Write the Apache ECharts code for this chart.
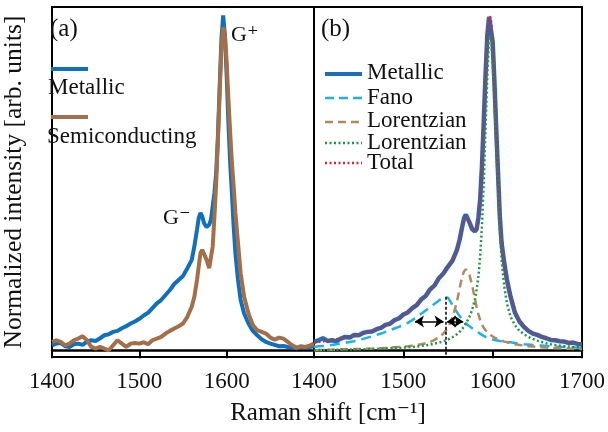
<!DOCTYPE html>
<html>
<head>
<meta charset="utf-8">
<script src="https://cdn.jsdelivr.net/npm/echarts@6/dist/echarts.min.js"></script>
<style>
  html, body { margin: 0; padding: 0; background: #fff; }
  #chart { width: 608px; height: 432px; }
</style>
</head>
<body>
<div id="chart"></div>
<script>
// Raman shift grid (cm-1), shared by every curve
var shift = [1400,1405,1410,1415,1420,1425,1430,1435,1440,1445,1450,1455,1460,1465,1470,1475,1480,1485,1490,1495,
  1500,1505,1510,1515,1520,1525,1530,1535,1540,1545,1550,1555,1560,
  1563,1566,1568,1570,1572,1574,1577,1580,1582,1584,
  1586,1588,1590,1592,1594,1596,1598,1600,1602,1604,1606,1608,1610,
  1613,1616,1620,
  1625,1630,1635,1640,1645,1650,1655,1660,1665,1670,1675,1680,1685,1690,1695,1700];

// (a) measured spectra
var metallicA = [.015,.02,.022,.012,.01,.018,.02,.016,.026,.03,.028,.036,.045,.048,.055,.058,.066,.072,.08,.086,
  .094,.104,.112,.126,.14,.15,.165,.18,.198,.21,.222,.245,.27,
  .31,.36,.395,.41,.4,.38,.368,.375,.39,.43,
  .47,.53,.64,.79,.93,1.0,.94,.82,.68,.56,.47,.37,.29,
  .21,.15,.11,
  .08,.058,.045,.033,.025,.02,.016,.012,.013,.01,.008,.006,.01,.008,.01,.012];
var semiA = [.025,.03,.025,.015,.02,.03,.035,.042,.03,.01,.005,.01,.005,0,.015,.03,.02,.01,.02,.022,
  .02,.024,.018,.03,.035,.04,.05,.058,.065,.072,.08,.1,.13,
  .16,.21,.25,.29,.3,.295,.27,.245,.25,.31,
  .4,.5,.63,.77,.9,.965,.94,.86,.75,.65,.56,.49,.41,
  .32,.23,.16,
  .11,.075,.06,.055,.05,.038,.032,.038,.035,.025,.015,.008,.012,.01,.014,.02];

// (b) metallic spectrum and its fit
var metallicB = [.025,.03,.036,.028,.03,.027,.035,.04,.038,.046,.045,.052,.055,.056,.063,.067,.076,.079,.09,.095,
  .107,.113,.126,.135,.152,.162,.182,.194,.216,.23,.25,.268,.3,
  .33,.37,.395,.405,.4,.382,.362,.355,.362,.395,
  .45,.55,.68,.82,.94,.995,.99,.92,.8,.66,.53,.4,.32,
  .26,.21,.16,
  .112,.086,.07,.058,.05,.046,.04,.036,.031,.03,.027,.026,.022,.023,.019,.018];
var fanoB = [.01,.012,.013,.014,.016,.018,.02,.022,.025,.027,.03,.034,.038,.042,.046,.05,.055,.06,.065,.07,
  .075,.082,.09,.099,.109,.119,.129,.139,.149,.158,.157,.135,.114,
  .102,.092,.086,.08,.076,.072,.066,.06,.056,.053,
  .05,.046,.043,.04,.038,.036,.034,.032,.031,.03,.029,.028,.027,
  .026,.025,.024,
  .022,.02,.018,.017,.016,.015,.014,.013,.012,.011,.01,.01,.009,.009,.008,.008];
var lorentzB1 = [0,.001,.001,.002,.002,.002,.003,.003,.003,.004,.004,.004,.005,.005,.006,.006,.007,.008,.009,.01,
  .011,.012,.014,.016,.018,.021,.025,.031,.039,.05,.068,.098,.145,
  .185,.222,.236,.242,.238,.225,.195,.155,.13,.108,
  .09,.077,.067,.06,.054,.049,.045,.041,.038,.035,.033,.031,.029,
  .026,.024,.021,
  .018,.016,.014,.012,.011,.01,.009,.008,.007,.007,.006,.005,.005,.004,.004,.004];
var lorentzB2 = [0,.001,.001,.001,.001,.002,.002,.002,.002,.003,.003,.003,.004,.004,.004,.005,.005,.006,.007,.007,
  .008,.009,.01,.011,.013,.015,.017,.02,.023,.027,.032,.039,.048,
  .055,.064,.071,.08,.09,.1,.12,.15,.18,.22,
  .28,.37,.5,.66,.82,.93,.94,.86,.74,.61,.49,.36,.27,
  .19,.14,.1,
  .075,.058,.048,.04,.034,.029,.025,.021,.018,.016,.014,.012,.011,.01,.009,.008];
var totalB = [.022,.025,.027,.029,.031,.033,.035,.038,.041,.044,.047,.051,.055,.059,.063,.068,.074,.08,.088,.096,
  .105,.115,.125,.137,.15,.164,.18,.196,.214,.232,.25,.27,.298,
  .33,.368,.39,.4,.396,.382,.364,.356,.362,.392,
  .45,.56,.7,.84,.95,1.0,.99,.92,.79,.65,.52,.4,.32,
  .255,.205,.158,
  .114,.088,.072,.06,.052,.045,.04,.036,.033,.03,.028,.026,.024,.022,.021,.02];

// Fano peak marker and width arrows
var fanoCenter = 1547;
var fanoTop = 0.16;
var arrowLevel = 0.086;
var arrowLeft = [1513, 1545];
var arrowRight = [1549, 1567];

var xTicks = [1400, 1700, 100];

function pairs(ys) {
    return shift.map(function (x, i) { return [x, ys[i]]; });
}

var serif = '"Liberation Serif", "DejaVu Serif", serif';
var chart = echarts.init(document.getElementById('chart'));

function xAxisFor(idx, showMax) {
    return {
        type: 'value', gridIndex: idx,
        min: xTicks[0], max: xTicks[1], interval: xTicks[2],
        axisLine: { show: true, lineStyle: { color: '#000', width: 2.5 } },
        axisTick: { show: true, inside: false, length: 8, lineStyle: { color: '#000', width: 2 } },
        axisLabel: { showMaxLabel: showMax, margin: 13, fontFamily: serif, fontSize: 23, color: '#111',
                     formatter: function (v) { return String(v); } },
        splitLine: { show: false }
    };
}
function yAxisFor(idx) {
    return {
        type: 'value', gridIndex: idx, min: -0.02, max: 1.025,
        axisLine: { show: false }, axisTick: { show: false },
        axisLabel: { show: false }, splitLine: { show: false }
    };
}

var ya = yAxisFor(0);
ya.name = 'Normalized intensity [arb. units]';
ya.nameLocation = 'middle';
ya.nameGap = 25;
ya.nameTextStyle = { fontFamily: serif, fontSize: 25.5, color: '#111' };

function legendLine(x, y, color, dash) {
    return {
        type: 'line', shape: { x1: x, y1: y, x2: x + 37, y2: y },
        style: { stroke: color, lineWidth: dash ? 2.5 : 4, lineDash: dash || null }
    };
}
function label(x, y, text, size) {
    return {
        type: 'text', x: x, y: y,
        style: { text: text, fontFamily: serif, fontSize: size || 23, fill: '#111', textVerticalAlign: 'middle' }
    };
}

var option = {
    animation: false,
    backgroundColor: '#fff',
    grid: [
        { left: 43, top: 7, width: 271, height: 350, show: true, borderColor: '#000', borderWidth: 2 },
        { left: 314, top: 7, width: 273, height: 350, show: true, borderColor: '#000', borderWidth: 2 }
    ],
    xAxis: [xAxisFor(0, false), xAxisFor(1, true)],
    yAxis: [ya, yAxisFor(1)],
    series: [
        { name: 'Metallic', type: 'line', xAxisIndex: 0, yAxisIndex: 0, showSymbol: false,
          data: pairs(metallicA), lineStyle: { color: '#1170bb', width: 4 } },
        { name: 'Semiconducting', type: 'line', xAxisIndex: 0, yAxisIndex: 0, showSymbol: false,
          data: pairs(semiA), lineStyle: { color: '#a36e48', width: 4 } },
        { name: 'Metallic (b)', type: 'line', xAxisIndex: 1, yAxisIndex: 1, showSymbol: false,
          data: pairs(metallicB), lineStyle: { color: '#1a6fbd', width: 4.5 } },
        { name: 'Fano', type: 'line', xAxisIndex: 1, yAxisIndex: 1, showSymbol: false,
          data: pairs(fanoB), lineStyle: { color: '#1db1ea', width: 2.5, type: [10, 6] },
          markLine: {
              silent: true, symbol: ['arrow', 'arrow'], symbolSize: [9, 9],
              label: { show: false },
              lineStyle: { color: '#000', width: 1.5, type: 'solid' },
              data: [
                  [{ coord: [fanoCenter, fanoTop], symbol: 'none', lineStyle: { type: [3, 2] } },
                   { coord: [fanoCenter, -0.02], symbol: 'none' }],
                  [{ coord: [arrowLeft[0], arrowLevel] }, { coord: [arrowLeft[1], arrowLevel] }],
                  [{ coord: [arrowRight[0], arrowLevel] }, { coord: [arrowRight[1], arrowLevel] }]
              ]
          } },
        { name: 'Lorentzian', type: 'line', xAxisIndex: 1, yAxisIndex: 1, showSymbol: false,
          data: pairs(lorentzB1), lineStyle: { color: '#b08a5c', width: 2.5, type: [8, 5] } },
        { name: 'Lorentzian 2', type: 'line', xAxisIndex: 1, yAxisIndex: 1, showSymbol: false,
          data: pairs(lorentzB2), lineStyle: { color: '#1a9a3c', width: 2.5, type: [2, 2.5] } },
        { name: 'Total', type: 'line', xAxisIndex: 1, yAxisIndex: 1, showSymbol: false,
          data: pairs(totalB), lineStyle: { color: '#e8202c', width: 2.5, type: [2, 2.5] } }
    ],
    graphic: [
        label(50, 29, '(a)', 25),
        label(321, 29, '(b)', 25),
        label(231, 35, 'G\u207A', 22),
        label(163, 218, 'G\u207B', 22),
        legendLine(51, 69, '#1170bb'),
        label(48, 88, 'Metallic'),
        legendLine(51, 117, '#a36e48'),
        label(47, 137, 'Semiconducting'),
        legendLine(325, 74, '#1a6fbd'),
        label(367, 73, 'Metallic'),
        legendLine(325, 98, '#1db1ea', [9, 5]),
        label(367, 98, 'Fano'),
        legendLine(325, 122, '#b08a5c', [8, 5]),
        label(367, 121, 'Lorentzian'),
        legendLine(325, 143, '#1a9a3c', [2, 2.5]),
        label(367, 143, 'Lorentzian'),
        legendLine(325, 163, '#e8202c', [2, 2.5]),
        label(367, 163, 'Total'),
        {
            type: 'text', x: 328, y: 413,
            style: { text: 'Raman shift [cm\u207B\u00B9]', fontFamily: serif, fontSize: 25, fill: '#111',
                     textAlign: 'center', textVerticalAlign: 'middle' }
        }
    ]
};
chart.setOption(option);
</script>
</body>
</html>
